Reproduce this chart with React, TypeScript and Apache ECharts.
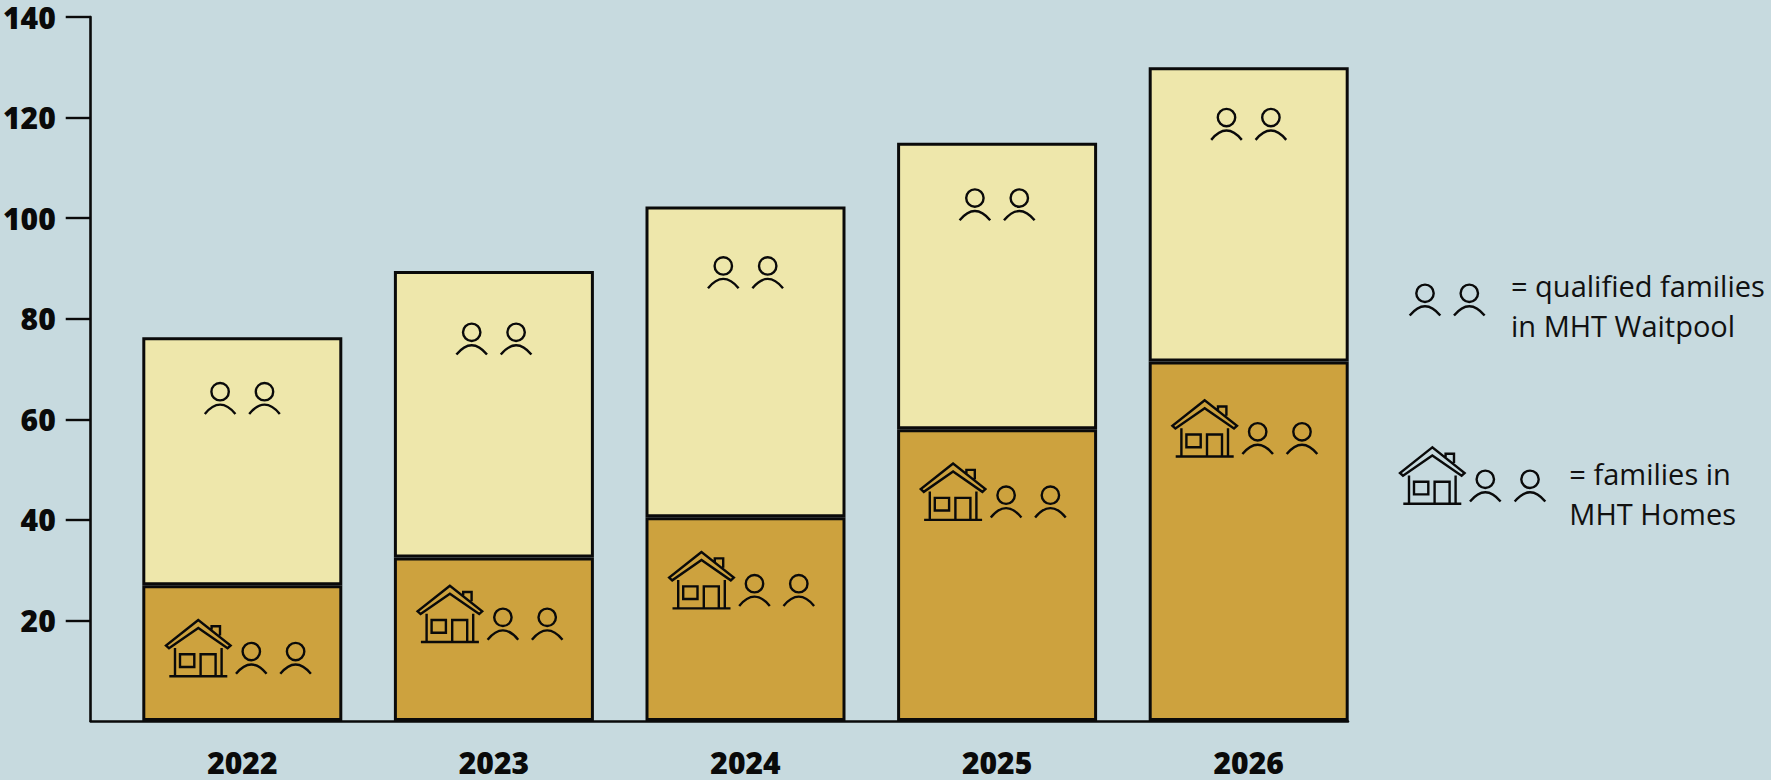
import React, { useEffect, useRef } from "react";
import * as echarts from "echarts";

const years = ["2022", "2023", "2024", "2025", "2026"];
const homes = [27, 32.5, 40.5, 58, 71.5];
const waitpool = [49.3, 57, 61.8, 57, 58.5];
const tickValues = [20, 40, 60, 80, 100, 120, 140];
const waitIconLevel = [65.5, 77.3, 90.5, 104, 120];
const homeIconLevel = [8.9, 15.7, 22.4, 40, 52.6];

const HOUSE_D =
  "M0 -56.3 L-32.3 -30.7 L-29.3 -28 L0 -48.3 L29.3 -28 L32.3 -30.7 Z " +
  "M13.3 -46.7 V-50 H21.7 V-40.7 " +
  "M-23.3 -28.3 V0 M23.3 -28.3 V0 M-29 0 H29 " +
  "M-18.3 -22 H-4 V-9.3 H-18.3 Z " +
  "M2.3 0 V-22 H17.3 V0";
const PERSON_D =
  "M8.7 0 A8.7 8.7 0 1 1 -8.7 0 A8.7 8.7 0 1 1 8.7 0 Z " +
  "M-15.3 22.3 Q0 3.7 15.3 22.3";

echarts.graphic.registerShape("mhtHouse", echarts.graphic.extendPath(HOUSE_D, {}) as any);
echarts.graphic.registerShape("mhtPerson", echarts.graphic.extendPath(PERSON_D, {}) as any);

const INK = "#0a0a0a";
const iconStyle = { fill: "none", stroke: INK, lineWidth: 2.4 };
const LABEL_FONT = "Open Sans";
const LEGEND_FONT = "Open Sans";

const person = (x: number, y: number) => ({ type: "mhtPerson", x, y, style: iconStyle, silent: true });
const house = (x: number, y: number) => ({ type: "mhtHouse", x, y, style: iconStyle, silent: true });
const legendText = (x: number, y: number, text: string) => ({
  type: "text",
  x,
  y,
  silent: true,
  style: { text, fill: "#111", fontFamily: LEGEND_FONT, fontSize: 29, verticalAlign: "middle", align: "left" },
});

export default function App() {
  const ref = useRef<HTMLDivElement>(null);
  useEffect(() => {
    document.body.style.margin = "0";
    const chart = echarts.init(ref.current!, null, { renderer: "svg" });
    const option: any = {
      animation: false,
      backgroundColor: "#C7DADF",
      grid: [
        { left: 90, top: 17, width: 1258, height: 704 },
        { left: 116.5, top: 17, width: 1258, height: 704 },
      ],
      xAxis: [
        {
          gridIndex: 0,
          type: "category",
          data: years,
          axisLine: { show: true, lineStyle: { color: INK, width: 2.6 } },
          axisTick: { show: false },
          axisLabel: { show: false },
          splitLine: { show: false },
        },
        {
          gridIndex: 1,
          type: "category",
          data: years,
          axisLine: { show: false },
          axisTick: { show: false },
          axisLabel: {
            color: INK,
            fontFamily: LABEL_FONT,
            fontWeight: 800,
            fontSize: 30,
            lineHeight: 26,
            margin: 28,
          },
          splitLine: { show: false },
        },
      ],
      yAxis: [
        {
          gridIndex: 0,
          type: "value",
          min: 0,
          max: 140,
          interval: 20,
          axisLine: { show: true, lineStyle: { color: INK, width: 2.6 } },
          axisTick: { show: true, length: 25, customValues: tickValues, lineStyle: { color: INK, width: 2.4 } },
          axisLabel: {
            color: INK,
            fontFamily: LABEL_FONT,
            fontWeight: 800,
            fontSize: 30,
            lineHeight: 26,
            margin: 35,
            customValues: tickValues,
          },
          splitLine: { show: false },
        },
        {
          gridIndex: 1,
          type: "value",
          min: 0,
          max: 140,
          interval: 20,
          show: false,
          splitLine: { show: false },
        },
      ],
      series: [
        {
          name: "Families in MHT Homes",
          type: "bar",
          xAxisIndex: 1,
          yAxisIndex: 1,
          stack: "families",
          data: homes,
          barWidth: 200,
          itemStyle: { color: "#CDA23E", borderColor: INK, borderWidth: 3 },
        },
        {
          name: "Qualified families in MHT Waitpool",
          type: "bar",
          xAxisIndex: 1,
          yAxisIndex: 1,
          stack: "families",
          data: waitpool,
          barWidth: 200,
          itemStyle: { color: "#EEE7AB", borderColor: INK, borderWidth: 3 },
        },
        {
          name: "Waitpool icons",
          type: "custom",
          xAxisIndex: 1,
          yAxisIndex: 1,
          clip: false,
          silent: true,
          z: 5,
          data: waitIconLevel.map((v, i) => [i, v]),
          renderItem: (_p: any, api: any) => {
            const [cx, cy] = api.coord([api.value(0), api.value(1)]);
            return { type: "group", children: [person(cx - 22.2, cy), person(cx + 22.2, cy)] };
          },
        },
        {
          name: "Homes icons",
          type: "custom",
          xAxisIndex: 1,
          yAxisIndex: 1,
          clip: false,
          silent: true,
          z: 5,
          data: homeIconLevel.map((v, i) => [i, v]),
          renderItem: (_p: any, api: any) => {
            const [cx, cy] = api.coord([api.value(0), api.value(1)]);
            const hx = cx - 44;
            return {
              type: "group",
              children: [house(hx, cy), person(hx + 53, cy - 24.7), person(hx + 97.3, cy - 24.7)],
            };
          },
        },
      ],
      graphic: [
        person(1425, 293.3),
        person(1469.3, 293.3),
        legendText(1511, 285, "= qualified families"),
        legendText(1511, 325, "in MHT Waitpool"),
        house(1432.3, 503.7),
        person(1485.3, 479.3),
        person(1530, 479.3),
        legendText(1569.3, 473, "= families in"),
        legendText(1569.3, 513, "MHT Homes"),
      ],
    };
    chart.setOption(option);
    return () => chart.dispose();
  }, []);
  return <div ref={ref} style={{ width: 1771, height: 780 }} />;
}
